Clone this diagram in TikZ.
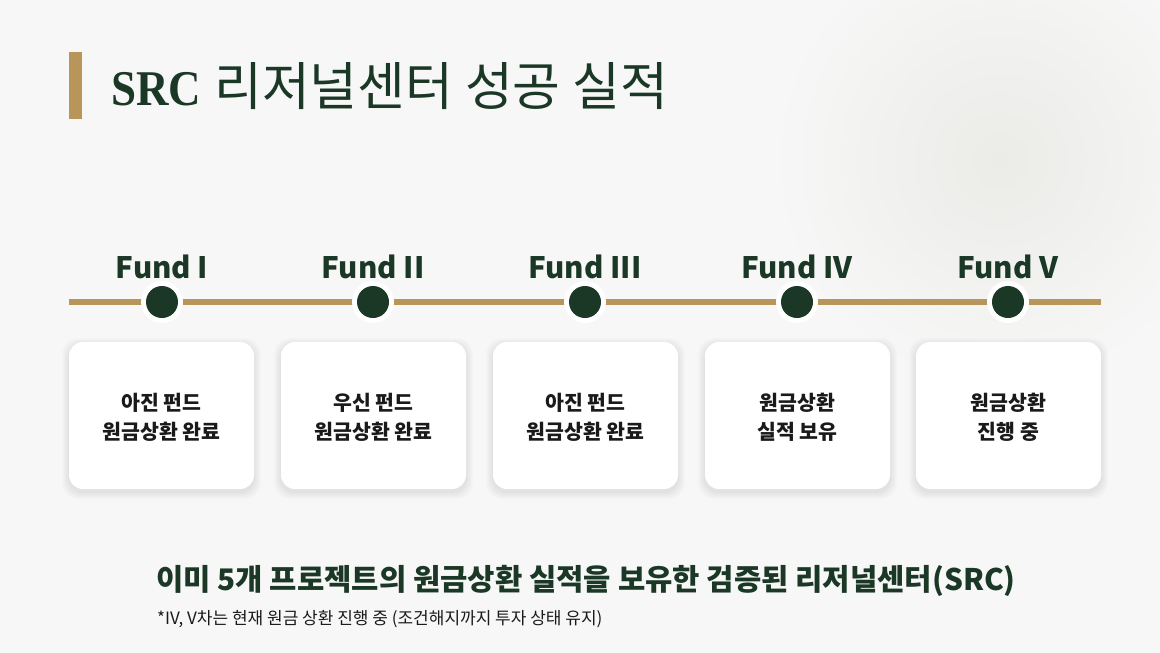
\documentclass[tikz,border=0pt]{standalone}
\usepackage{fontspec}
\setmainfont{Noto Sans CJK KR}
\newfontfamily\kr{Noto Sans CJK KR}
\newfontfamily\serifsrc[FakeStretch=0.9]{Liberation Serif}
\definecolor{bg}{HTML}{F7F7F7}
\definecolor{glow}{HTML}{EBECE8}
\definecolor{gold}{HTML}{B8965A}
\definecolor{dkgreen}{HTML}{1B3826}
\definecolor{txt}{HTML}{1A1A1A}
\tikzset{
  fundlabel/.style={anchor=base, text=dkgreen, font=\kr\bfseries\fontsize{29.5}{34}\selectfont, inner sep=0},
  card/.style={draw=none, fill=white, rounded corners=14pt, minimum width=185pt, minimum height=147pt, inner sep=0},
  cardtext/.style={text=txt, align=center, font=\kr\bfseries\fontsize{20.5}{29}\selectfont, inner sep=0},
  ring/.style={circle, fill=white, minimum size=42pt, inner sep=0},
  dot/.style={circle, fill=dkgreen, minimum size=32pt, inner sep=0},
}
\begin{document}
\begin{tikzpicture}[x=1pt,y=-1pt]
\useasboundingbox (0,0) rectangle (1160,653);
\fill[bg] (0,0) rectangle (1160,653);
\shade[inner color=glow, outer color=bg] (1000,160) circle (230);
% title
\fill[gold] (69,52) rectangle (82,119);
\node[anchor=base west, inner sep=0, text=dkgreen] (title) at (111,105)
  {{\serifsrc\bfseries\fontsize{50}{56}\selectfont SRC}\hspace{13pt}{\kr\fontsize{52}{58}\selectfont 리저널센터 성공 실적}};
% timeline
\coordinate (L) at (69,302);
\coordinate (R) at (1101,302);
\draw[gold, line width=6pt] (L) -- (R);
\foreach \i/\x/\lab in {1/162/Fund I, 2/373/Fund II, 3/585/Fund III, 4/797/Fund IV, 5/1008/Fund V}{
  \node[ring] (r\i) at (\x,302) {};
  \node[dot] (d\i) at (\x,302) {};
  \node[fundlabel] (f\i) at (\x,278) {\lab};
}
% cards
\foreach \i/\x/\a/\b in {1/161.5/아진 펀드/원금상환 완료, 2/373.5/우신 펀드/원금상환 완료, 3/585.5/아진 펀드/원금상환 완료, 4/797.5/원금상환/실적 보유, 5/1008.5/원금상환/진행 중}{
  \foreach \k in {1,...,7}{
    \fill[black, opacity=0.01, rounded corners=16pt] (\x-92.5-\k,342-\k+3) rectangle (\x+92.5+\k,489+\k+3);
  }
  \node[card] (b\i) at (\x,415.5) {};
  \node[cardtext] (t\i) at (\x,417) {\a\\\b};
}
% bottom text
\node[anchor=base, inner sep=0, text=dkgreen, font=\kr\bfseries\fontsize{29.7}{34}\selectfont] (main) at (586,590)
  {이미 5개 프로젝트의 원금상환 실적을 보유한 검증된 리저널센터(SRC)};
\node[anchor=base west, inner sep=0, text=txt, font=\kr\fontsize{17}{20}\selectfont] (note) at (157,624)
  {*IV, V차는 현재 원금 상환 진행 중 (조건해지까지 투자 상태 유지)};
\end{tikzpicture}
\end{document}
